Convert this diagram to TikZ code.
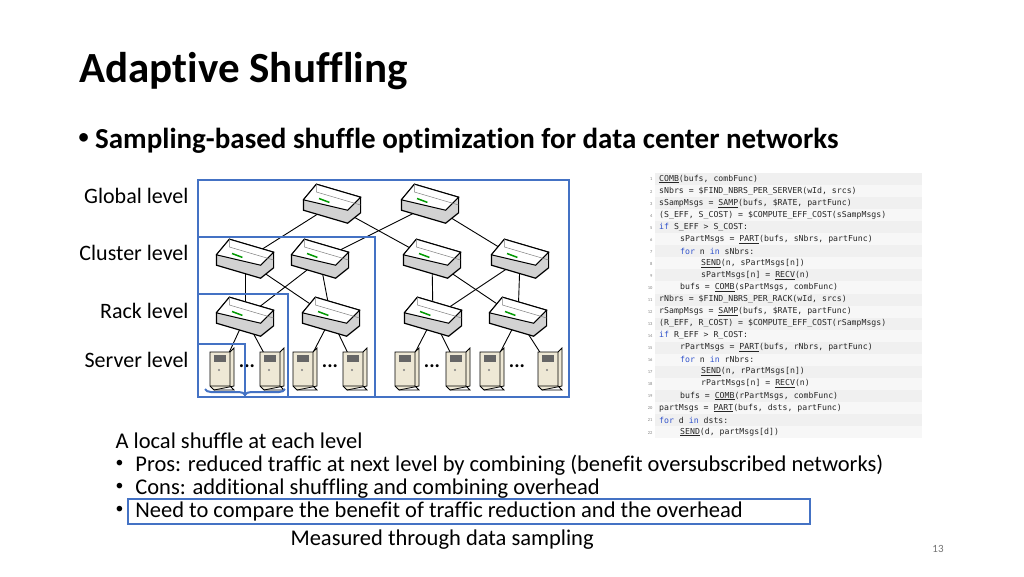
\documentclass[tikz,border=0pt]{standalone}
\usepackage{fontspec}
\setmainfont[Ligatures=NoCommon]{Carlito}
\newfontfamily\codefont{DejaVu Sans Mono}
\usetikzlibrary{decorations.pathreplacing}
\definecolor{hl}{HTML}{4472C4}
\definecolor{kw}{HTML}{3355CC}
\definecolor{beige}{HTML}{EEE8D5}
\newcommand{\smbul}{\raisebox{0.15em}{\scalebox{0.7}{\textbullet}}}
\tikzset{
 lvl/.style={anchor=east,font=\fontsize{22}{22}\selectfont},
 hbox/.style={draw=hl,line width=2.2pt},
 link/.style={line width=0.9pt},
 sw/.pic={
  \begin{scope}[scale=1.3]
  \fill[gray!35,draw=black,line width=1.2pt] (-22,-4)--(-12,-16)--(22,-6)--(22,6)--(12,14)--(-22,4)--cycle;
  \fill[white,draw=black,line width=1pt] (-22,-4)--(-12,-16)--(22,-6)--(12,4)--cycle;
  \draw[green!60!black,line width=1.5pt] (-10,-5)--(-2,-2);
  \draw[gray,line width=0.5pt] (-12,-16)--(-12,-10)--(22,0);
  \end{scope}
 },
 srv/.pic={
  \fill[beige,draw=black,line width=0.8pt] (-12,-16)--(8,-16)--(12,-20)--(12,18)--(-8,22)--(-12,18)--cycle;
  \draw[line width=0.8pt] (-12,18)--(8,18)--(12,22)--(-8,22) (8,18)--(8,-16);
  \fill[black!60] (-8,-13) rectangle (4,-6);
  \fill[black!50] (-3,2) circle (1.2);
 }
}
\begin{document}
\begin{tikzpicture}[x=1pt,y=-1pt]
\useasboundingbox[fill=white] (0,0) rectangle (1024,576);
\node[anchor=base west,font=\fontsize{43}{43}\selectfont\bfseries] (title) at (76,82) {Adaptive Shuffling};
\node[anchor=base west,font=\fontsize{29}{29}\selectfont\bfseries] (sub) at (75,148) {\smbul\ Sampling-based shuffle optimization for data center networks};
\node[lvl] (gl) at (192,196) {Global level};
\node[lvl] (cl) at (192,253) {Cluster level};
\node[lvl] (rl) at (192,311) {Rack level};
\node[lvl] (sl) at (192,360) {Server level};
\foreach \n/\x/\y in {t1/332/205,t2/430/205,c1/245/260,c2/320/260,c3/432/260,c4/520/260,r1/245/318,r2/331/318,r3/433/318,r4/518/318}
  \coordinate (\n) at (\x,\y);
\foreach \n/\x in {s1/222,s2/272,s3/305,s4/355,s5/407,s6/458,s7/492,s8/550}
  \coordinate (\n) at (\x,368);
\foreach \a/\b in {t1/c1,t1/c3,t2/c2,t2/c4,c1/r1,c1/r2,c2/r1,c2/r2,c3/r3,c3/r4,c4/r3,c4/r4,r1/s1,r1/s2,r2/s3,r2/s4,r3/s5,r3/s6,r4/s7,r4/s8}
  \draw[link] (\a)--(\b);
\foreach \n in {t1,t2,c1,c2,c3,c4,r1,r2,r3,r4} \pic at (\n) {sw};
\foreach \n in {s1,s2,s3,s4,s5,s6,s7,s8} \pic at (\n) {srv};
\foreach \x in {247,330,432,517} \node[font=\fontsize{20}{20}\selectfont\bfseries] at (\x,366) {...};
\draw[hbox] (198,180) rectangle (569,397);
\draw[hbox] (198,237) rectangle (375,397);
\draw[hbox] (198,294) rectangle (288,397);
\draw[hbox] (198,344) rectangle (245,397);
\draw[draw=hl,line width=2pt,decorate,decoration={brace,amplitude=6pt,mirror}] (205,389)--(285,389);
\foreach \i in {1,...,22} {
  \pgfmathsetmacro\yy{173+(\i-1)*12.05}
  \ifodd\i \fill[black!6] (655,\yy) rectangle (922,\yy+12.05); \else \fill[black!3] (655,\yy) rectangle (922,\yy+12.05); \fi
  \node[anchor=east,font=\fontsize{4.5}{5}\selectfont,text=black!50] at (656,\yy+6.5) {\i};
}
\begin{scope}[every node/.style={anchor=west,font=\codefont\fontsize{8.2}{9}\selectfont,inner sep=0pt,text=black!85}]
\def\K#1{\textcolor{kw}{#1}}
\def\U#1{\underline{#1}}
\node at (659,179.1) {\U{COMB}(bufs, combFunc)};
\node at (659,191.1) {sNbrs = \$FIND\_NBRS\_PER\_SERVER(wId, srcs)};
\node at (659,203.2) {sSampMsgs = \U{SAMP}(bufs, \$RATE, partFunc)};
\node at (659,215.2) {(S\_EFF, S\_COST) = \$COMPUTE\_EFF\_COST(sSampMsgs)};
\node at (659,227.3) {\K{if} S\_EFF > S\_COST:};
\node at (680,239.3) {sPartMsgs = \U{PART}(bufs, sNbrs, partFunc)};
\node at (680,251.4) {\K{for} n \K{in} sNbrs:};
\node at (701,263.4) {\U{SEND}(n, sPartMsgs[n])};
\node at (701,275.5) {sPartMsgs[n] = \U{RECV}(n)};
\node at (680,287.5) {bufs = \U{COMB}(sPartMsgs, combFunc)};
\node at (659,299.6) {rNbrs = \$FIND\_NBRS\_PER\_RACK(wId, srcs)};
\node at (659,311.6) {rSampMsgs = \U{SAMP}(bufs, \$RATE, partFunc)};
\node at (659,323.7) {(R\_EFF, R\_COST) = \$COMPUTE\_EFF\_COST(rSampMsgs)};
\node at (659,335.7) {\K{if} R\_EFF > R\_COST:};
\node at (680,347.8) {rPartMsgs = \U{PART}(bufs, rNbrs, partFunc)};
\node at (680,359.8) {\K{for} n \K{in} rNbrs:};
\node at (701,371.9) {\U{SEND}(n, rPartMsgs[n])};
\node at (701,383.9) {rPartMsgs[n] = \U{RECV}(n)};
\node at (680,396.0) {bufs = \U{COMB}(rPartMsgs, combFunc)};
\node at (659,408.0) {partMsgs = \U{PART}(bufs, dsts, partFunc)};
\node at (659,420.1) {\K{for} d \K{in} dsts:};
\node at (680,432.1) {\U{SEND}(d, partMsgs[d])};
\end{scope}
\begin{scope}[every node/.style={anchor=base west,font=\fontsize{22.5}{23}\selectfont}]
\node (b0) at (112,448) {A local shuffle at each level};
\node (b1) at (112,471) {\smbul\hspace{12pt}Pros: reduced traffic at next level by combining (benefit oversubscribed networks)};
\node (b2) at (112,494) {\smbul\hspace{12pt}Cons: additional shuffling and combining overhead};
\node (b3) at (112,517) {\smbul\hspace{12pt}Need to compare the benefit of traffic reduction and the overhead};
\node (b4) at (287,545) {Measured through data sampling};
\end{scope}
\draw[hbox,line width=1.8pt] (128,499) rectangle (810,524);
\node[text=black!55,font=\fontsize{11}{11}\selectfont] (pg) at (938,549) {13};
\end{tikzpicture}
\end{document}
